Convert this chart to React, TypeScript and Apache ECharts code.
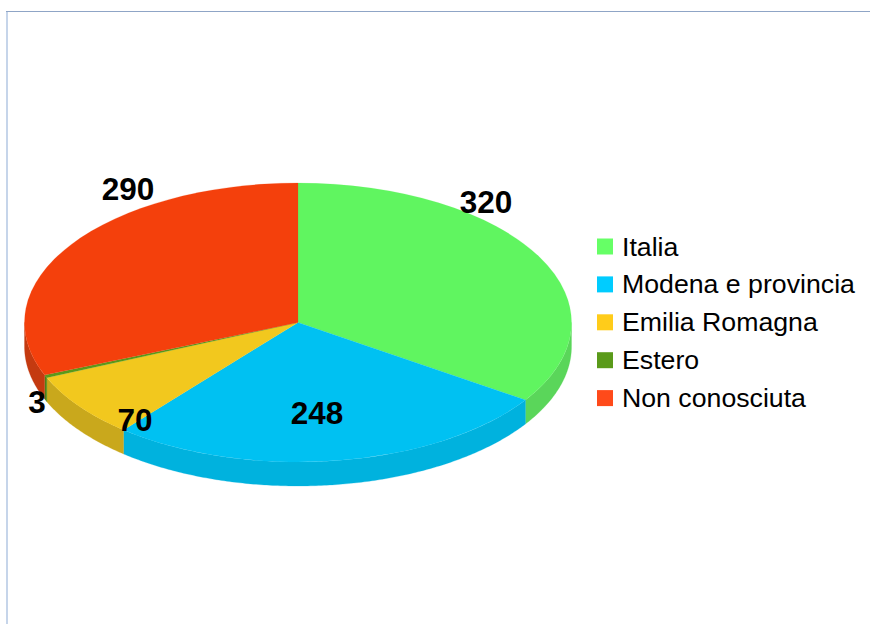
import React, { useEffect, useRef } from "react";
import * as echarts from "echarts";

const categories = ["Italia", "Modena e provincia", "Emilia Romagna", "Estero", "Non conosciuta"];
const values = [320, 248, 70, 3, 290];
const topColors = ["#60f560", "#00c1f2", "#f2c81e", "#5a9a1a", "#f4400c"];
const sideColors = ["#5ad65a", "#00b2de", "#c9a81c", "#4c8416", "#c43a10"];
const legendColors = ["#66ff66", "#00ccff", "#ffcc1a", "#5a9a1a", "#ff4a1a"];
const labelCenters: number[][] = [[486, 202], [317, 413], [135, 420], [37, 402], [128, 189]];

const CX = 298, CY = 322.5, RX = 273.5, RY = 139.5, DEPTH = 24;
const FONT = "'Liberation Sans', Arial, sans-serif";
const total = values.reduce((a, b) => a + b, 0);

function sliceAngles(i: number): [number, number] {
  let before = 0;
  for (let k = 0; k < i; k++) before += values[k];
  return [(before / total) * Math.PI * 2, ((before + values[i]) / total) * Math.PI * 2];
}

function rim(a: number, dy: number): number[] {
  return [CX + RX * Math.sin(a), CY - RY * Math.cos(a) + dy];
}

function sideWall(a0: number, a1: number): number[][] | null {
  const s = Math.max(a0, Math.PI / 2);
  const e = Math.min(a1, (Math.PI * 3) / 2);
  if (e <= s) return null;
  const n = Math.max(2, Math.ceil((e - s) / 0.01));
  const top: number[][] = [];
  const bottom: number[][] = [];
  for (let k = 0; k <= n; k++) {
    const a = s + ((e - s) * k) / n;
    top.push(rim(a, 0));
    bottom.unshift(rim(a, DEPTH));
  }
  return top.concat(bottom);
}

function makeRender(i: number) {
  return () => {
    const [a0, a1] = sliceAngles(i);
    const children: any[] = [];
    const wall = sideWall(a0, a1);
    if (wall) {
      children.push({
        type: "polygon",
        shape: { points: wall },
        style: { fill: sideColors[i], stroke: sideColors[i], lineWidth: 0.25 },
      });
    }
    children.push({
      type: "sector",
      x: CX,
      y: CY,
      scaleY: RY / RX,
      shape: {
        cx: 0,
        cy: 0,
        r0: 0,
        r: RX,
        startAngle: a0 - Math.PI / 2,
        endAngle: a1 - Math.PI / 2,
        clockwise: true,
      },
      style: { fill: topColors[i], stroke: topColors[i], lineWidth: 0.25 },
    });
    children.push({
      type: "text",
      x: labelCenters[i][0],
      y: labelCenters[i][1],
      z2: 10,
      style: {
        text: String(values[i]),
        fontFamily: FONT,
        fontSize: 31.5,
        fontWeight: "bold",
        fill: "#000",
        align: "center",
        verticalAlign: "middle",
      },
    });
    return { type: "group", children };
  };
}

export default function App() {
  const ref = useRef<HTMLDivElement>(null);
  useEffect(() => {
    const chart = echarts.init(ref.current!, undefined, { renderer: "svg" });
    chart.setOption({
      animation: false,
      backgroundColor: "#ffffff",
      legend: {
        left: 597,
        top: 233,
        padding: 0,
        orient: "vertical",
        icon: "rect",
        itemWidth: 16,
        itemHeight: 16,
        itemGap: 10.9,
        selectedMode: false,
        textStyle: { fontFamily: FONT, fontSize: 26.7, color: "#000", padding: [0, 0, 0, 4] },
        data: categories.map((name, i) => ({ name, itemStyle: { color: legendColors[i] } })),
      },
      graphic: [
        { type: "rect", shape: { x: 6, y: 11, width: 2, height: 613 }, style: { fill: "#c6d5ea" } },
        { type: "rect", shape: { x: 6, y: 11, width: 864, height: 1 }, style: { fill: "#8fa5c6" } },
      ],
      series: categories.map((name, i) => ({
        type: "custom",
        name,
        coordinateSystem: "none",
        silent: true,
        itemStyle: { color: topColors[i] },
        data: [[values[i]]],
        renderItem: makeRender(i),
      })),
    });
    return () => chart.dispose();
  }, []);
  return <div ref={ref} style={{ position: "absolute", left: 0, top: 0, width: 870, height: 624 }} />;
}
